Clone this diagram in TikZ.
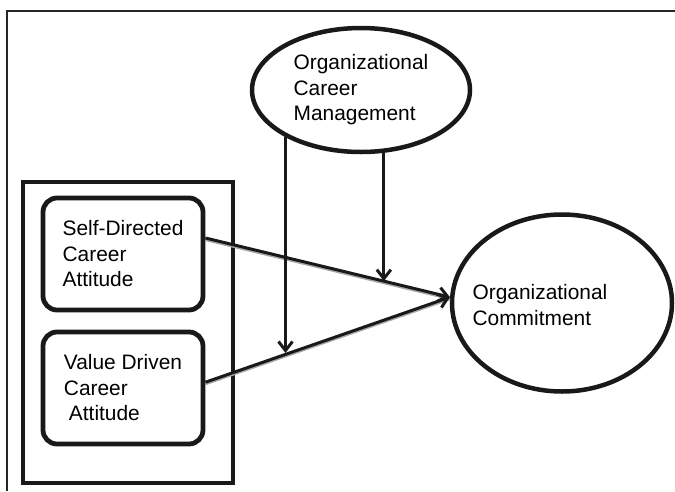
\documentclass[tikz,border=0pt]{standalone}
\usepackage{fontspec}
\setmainfont{Liberation Sans}
\usetikzlibrary{shapes.geometric, arrows.meta, calc}

\begin{document}
\begin{tikzpicture}[x=1pt, y=-1pt,
    box/.style={rectangle, rounded corners=14pt, draw=black!90, line width=4.8pt, minimum width=160pt, minimum height=112pt, align=left, inner sep=0pt, font=\fontsize{20.9}{25.5}\selectfont},
    oval/.style={ellipse, draw=black!90, line width=4.5pt, inner sep=0pt, align=left, font=\fontsize{20.9}{25.5}\selectfont},
    link/.style={-{Straight Barb[length=9pt, width=14pt, line width=3pt]}, line width=3pt, black!90},
    lineshade/.style={preaction={draw=black!35, line width=2.5pt, -, transform canvas={yshift=-1.8pt}}}
]
    \useasboundingbox (0,0) rectangle (675,491);

    % Frame
    \draw[line width=1.3pt, black!85] (7,491) -- (7,11) -- (675,11);

    % Career attitudes
    \node[draw=black!90, line width=4.5pt, minimum width=210pt, minimum height=301pt] (group) at (128,332.5) {};
    \node[box] (sdca) at (123,254) {Self-Directed\\Career\\Attitude};
    \node[box] (vdca) at (123,388) {Value Driven\\Career\\\hspace{5pt}Attitude};

    % Moderator and outcome
    \node[oval, minimum width=218pt, minimum height=124pt] (ocm) at (361,90) {Organizational\\Career\\Management};
    \node[oval, minimum width=220pt, minimum height=177pt] (oc) at (562,303) {};
    \node[align=left, inner sep=0pt, font=\fontsize{20.9}{25.5}\selectfont] (oclabel) at (540,305) {Organizational\\Commitment};

    % Paths
    \draw[link, lineshade] (sdca.11) -- (oc.177);
    \draw[link, lineshade] (vdca.4) -- (oc.177);

    \coordinate (m1) at ($(vdca.4)!0.344!(oc.177)$);
    \coordinate (m2) at ($(sdca.11)!0.729!(oc.177)$);
    \draw[link] (ocm.212) -- (ocm.212 |- m1);
    \draw[link] (ocm.290) -- (ocm.290 |- m2);
\end{tikzpicture}
\end{document}
